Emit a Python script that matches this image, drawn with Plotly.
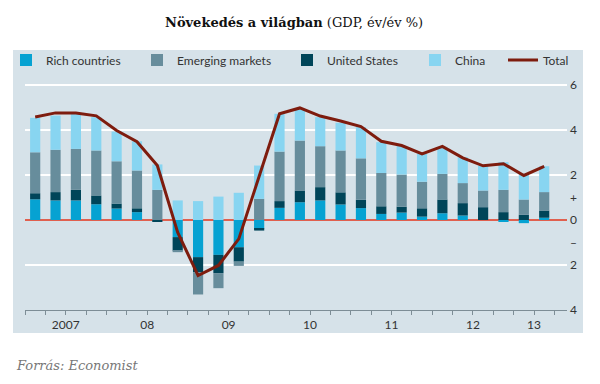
import plotly.graph_objects as go

quarters = [f"{y}Q{q}" for y in range(2007, 2014) for q in range(1, 5)][:26]

rich = [0.92, 0.87, 0.87, 0.70, 0.51, 0.35, 0.00, -0.76, -1.65, -1.55, -1.21, -0.39, 0.54,
        0.79, 0.87, 0.69, 0.53, 0.27, 0.33, 0.15, 0.30, 0.20, 0.00, -0.07, -0.14, 0.10]
united_states = [0.27, 0.37, 0.47, 0.39, 0.22, 0.17, -0.07, -0.60, -0.67, -0.81, -0.64, -0.08, 0.30,
                 0.52, 0.59, 0.54, 0.37, 0.34, 0.26, 0.37, 0.61, 0.55, 0.57, 0.35, 0.23, 0.32]
emerging = [1.82, 1.88, 1.82, 2.00, 1.88, 1.68, 1.34, -0.07, -0.99, -0.67, -0.19, 0.94, 2.20,
            2.22, 1.82, 1.86, 1.84, 1.48, 1.43, 1.18, 1.14, 0.89, 0.74, 0.99, 0.68, 0.82]
china = [1.53, 1.52, 1.55, 1.48, 1.32, 1.30, 1.13, 0.87, 0.84, 1.04, 1.21, 1.48, 1.68,
         1.37, 1.29, 1.23, 1.39, 1.37, 1.28, 1.24, 1.20, 1.15, 1.10, 1.23, 1.14, 1.15]
total = [4.58, 4.76, 4.76, 4.63, 3.98, 3.48, 2.42, -0.55, -2.47, -2.02, -0.84, 1.93, 4.72,
         4.98, 4.62, 4.40, 4.15, 3.50, 3.31, 2.94, 3.27, 2.76, 2.41, 2.50, 1.98, 2.38]

year_labels = ["2007", "08", "09", "10", "11", "12", "13"]
y_tick_vals = [-4, -2, 0, 2, 4, 6]
y_tick_text = ["4", "2", "0", "2", "4", "6"]
y_sign_vals = [-1, 1]
y_sign_text = ["\u2013", "+"]

x = list(range(len(quarters)))
years = [q[:4] for q in quarters]
year_pos = []
for y in sorted(set(years)):
    idx = [i for i, yy in enumerate(years) if yy == y]
    year_pos.append(sum(idx) / len(idx))

C_RICH = "#06a2d2"
C_EM = "#678d9c"
C_US = "#004559"
C_CHINA = "#88d5f1"
C_TOTAL = "#7e1c0e"
BG = "#d6e2e9"
FONT = "Lato"
SERIF = "DejaVu Serif"

fig = go.Figure()
specs = [
    ("Rich countries", rich, C_RICH, "legend"),
    ("United States", united_states, C_US, "legend3"),
    ("Emerging markets", emerging, C_EM, "legend2"),
    ("China", china, C_CHINA, "legend4"),
]
for name, vals, col, lg in specs:
    fig.add_trace(go.Bar(x=x, y=vals, name=name, marker=dict(color=col, line=dict(width=0)),
                         width=0.5, legend=lg))
fig.add_trace(go.Scatter(x=x, y=total, name="Total", mode="lines",
                         line=dict(color=C_TOTAL, width=3), yaxis="y2", legend="legend5"))

L, R, T, B = 25, 33, 72, 74
W, H = 600, 384
pw, ph = W - L - R, H - T - B

def px_x(p):
    return (p - L) / pw

def px_y(p):
    return (H - B - p) / ph

leg_common = dict(orientation="h", yanchor="middle", xanchor="left", bgcolor="rgba(0,0,0,0)",
                  font=dict(family=FONT, size=12, color="#333333"), itemwidth=30,
                  borderwidth=0, tracegroupgap=0)
legend_text_x = [46, 177, 327, 455, 543]
legends = {}
for i, tx in enumerate(legend_text_x):
    key = "legend" if i == 0 else f"legend{i+1}"
    legends[key] = dict(leg_common, x=px_x(tx - 40), y=px_y(60))

yr = [-4, 6.578]
fig.update_layout(
    width=W, height=H,
    margin=dict(l=L, r=R, t=T, b=B, autoexpand=False),
    paper_bgcolor="white",
    plot_bgcolor=BG,
    barmode="relative",
    bargap=0.5,
    showlegend=True,
    font=dict(family=FONT, size=11, color="#333333"),
    xaxis=dict(range=[-0.5, 26.12], showgrid=False, zeroline=False,
               showline=True, linecolor="#7d8d96", linewidth=1,
               tickvals=year_pos, ticktext=year_labels,
               ticks="outside", ticklen=4, tickcolor="#7d8d96",
               minor=dict(tick0=-0.5, dtick=1, ticks="outside", ticklen=4, tickcolor="#7d8d96"),
               tickfont=dict(family=FONT, size=12, color="#333333")),
    yaxis=dict(range=yr, side="right", tickvals=y_tick_vals, ticktext=y_tick_text,
               showgrid=True, gridcolor="white", gridwidth=1.5,
               zeroline=True, zerolinecolor="#e0604f", zerolinewidth=1.5,
               ticks="", showline=False, ticklabelstandoff=2,
               tickfont=dict(family=FONT, size=12, color="#333333")),
    yaxis2=dict(range=yr, overlaying="y", side="right", tickvals=y_sign_vals, ticktext=y_sign_text,
                showgrid=False, zeroline=False, ticks="", showline=False, ticklabelstandoff=2,
                tickfont=dict(family=FONT, size=12, color="#333333")),
    shapes=[dict(type="rect", xref="paper", yref="paper", layer="below",
                 x0=px_x(13), x1=px_x(583), y0=px_y(333), y1=px_y(50),
                 fillcolor=BG, line=dict(width=0))],
    annotations=[
        dict(text="<b>Növekedés a világban</b> (GDP, év/év %)", xref="paper", yref="paper",
             x=px_x(294), y=px_y(22), xanchor="center", yanchor="middle", showarrow=False,
             font=dict(family=SERIF, size=13, color="#111111")),
        dict(text="<i>Forrás: Economist</i>", xref="paper", yref="paper",
             x=px_x(14), y=px_y(365), xanchor="left", yanchor="middle", showarrow=False,
             font=dict(family=SERIF, size=13, color="#777777")),
    ],
    **legends,
)

fig.write_html("out.html", config={"displayModeBar": False},
               post_script="document.body.style.margin='0px';document.body.style.padding='0px';")
